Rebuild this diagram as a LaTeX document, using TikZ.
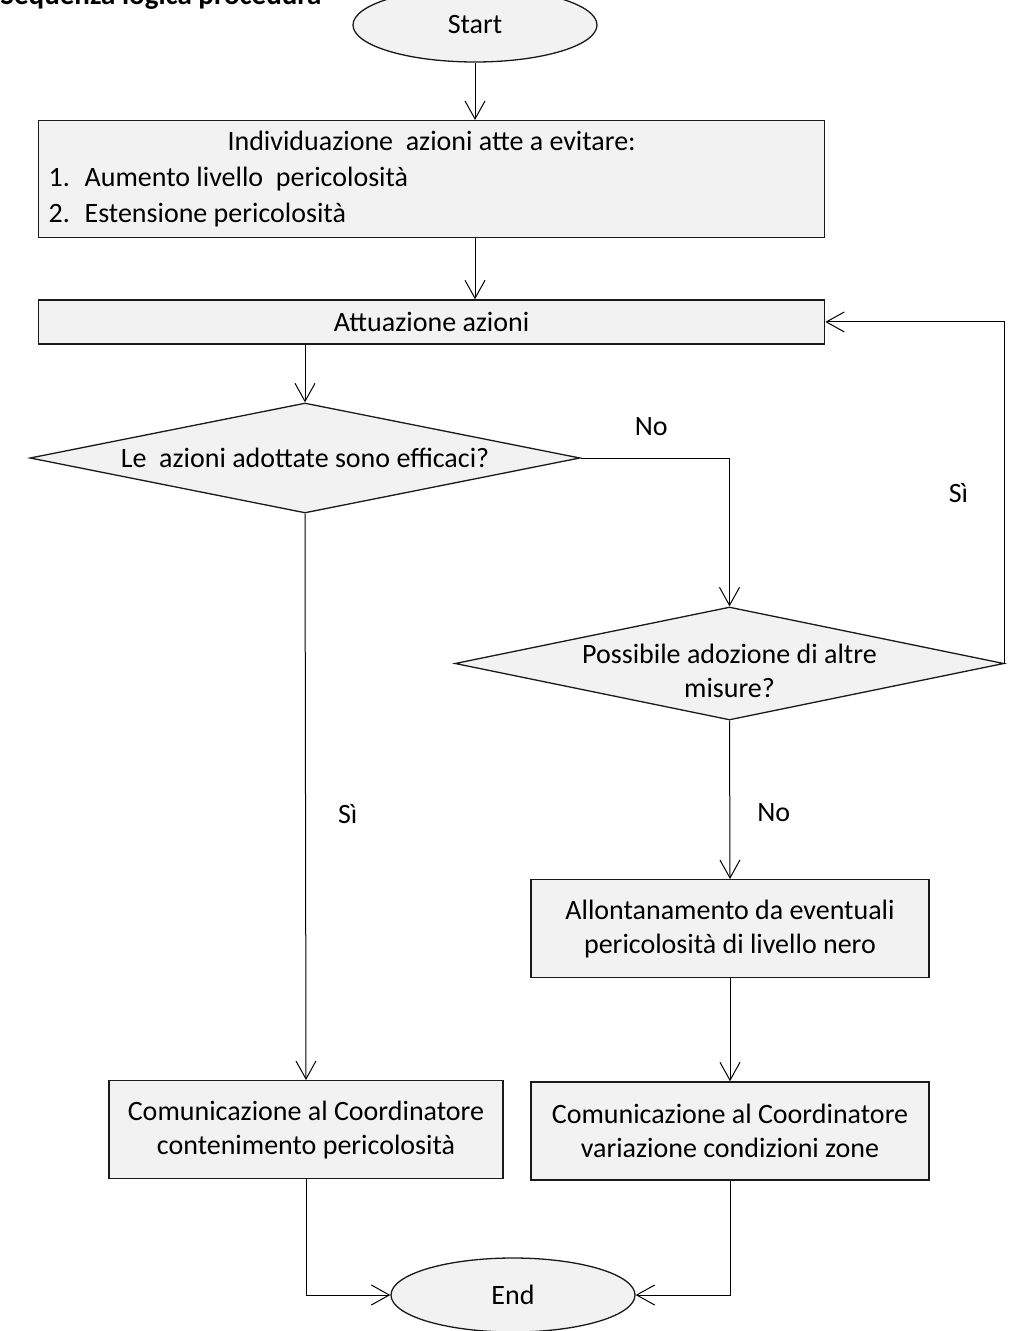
\documentclass[tikz,border=0pt]{standalone}
\usepackage{fontspec}
\setmainfont{Carlito}
\usepackage{tikz}
\usetikzlibrary{arrows.meta,positioning,shapes.geometric}
\definecolor{PanelGray}{HTML}{F2F2F2}
\definecolor{LineBlack}{HTML}{1A1A1A}

\begin{document}
\begin{tikzpicture}[x=0.5pt,y=-0.5pt,font=\fontsize{14}{17}\selectfont,
  stepbox/.style={draw=LineBlack,line width=0.65pt,fill=PanelGray,inner sep=0pt,align=center},
  decision/.style={diamond,aspect=5,draw=LineBlack,line width=0.65pt,fill=PanelGray,inner sep=-10pt,align=center},
  terminal/.style={ellipse,draw=LineBlack,line width=0.65pt,fill=PanelGray,minimum width=122pt,minimum height=37pt},
  flow/.style={-{Straight Barb[length=9pt,width=10pt]},line width=0.5pt},
  answer/.style={inner sep=0pt}]
\useasboundingbox (0,0) rectangle (1021,1331);
\node[anchor=base west,inner sep=0pt,font=\fontsize{14.5}{17}\selectfont\bfseries] (title) at (0,5) {Sequenza logica procedura};
\node[terminal] (start) at (475,25) {Start};
\node[stepbox,anchor=north west,minimum width=393pt,minimum height=58.5pt,text width=383pt,align=flush left,
  font=\fontsize{14}{18}\selectfont] (ident) at (38,120)
  {{\centering Individuazione\ \ azioni atte a evitare:\par}
   \makebox[18pt][l]{1.}Aumento livello\ \ pericolosità\\
   \makebox[18pt][l]{2.}Estensione pericolosità};
\node[stepbox,below=30.5pt of ident,minimum width=393pt,minimum height=22pt] (act) {Attuazione azioni};
\node[decision,minimum width=275pt,minimum height=55pt] (eff) at (305,458) {Le\ \ azioni adottate sono efficaci?};
\node[decision,minimum width=274.5pt,minimum height=56.5pt] (other) at (729.5,663.5)
  {\raisebox{-5pt}[\height][\depth]{\begin{tabular}{@{}c@{}}Possibile adozione di altre\\misure?\end{tabular}}};
\node[stepbox,anchor=north,minimum width=199pt,minimum height=49pt] (away) at (730,879) {Allontanamento da eventuali\\pericolosità di livello nero};
\node[stepbox,below=51.5pt of away,minimum width=199pt,minimum height=49pt] (commzone) {Comunicazione al Coordinatore\\variazione condizioni zone};
\node[stepbox,anchor=north,minimum width=197pt,minimum height=49pt] (commcont) at (306,1080) {Comunicazione al Coordinatore\\contenimento pericolosità};
\node[terminal] (end) at (513,1295) {End};
% connectors
\draw[flow] (start) -- (start |- ident.north);
\draw[flow] (start |- ident.south) -- (start |- act.north);
\draw[flow] (eff |- act.south) -- (eff.north);
\draw[flow] (eff.east) -| node[answer,pos=.237,above=11pt] {No} (other.north);
\draw[flow] (other.east) |- node[answer,pos=.25,left=18pt] {Sì} (act.east);
\draw[flow] (other.south) -- node[answer,pos=.58,right=13.5pt] {No} (away.north);
\draw[flow] (eff.south) -- node[answer,pos=.53,right=16pt] {Sì} (commcont.north);
\draw[flow] (away) -- (commzone);
\draw[flow] (commcont.south) |- (end.west);
\draw[flow] (commzone.south) |- (end.east);
\end{tikzpicture}
\end{document}
